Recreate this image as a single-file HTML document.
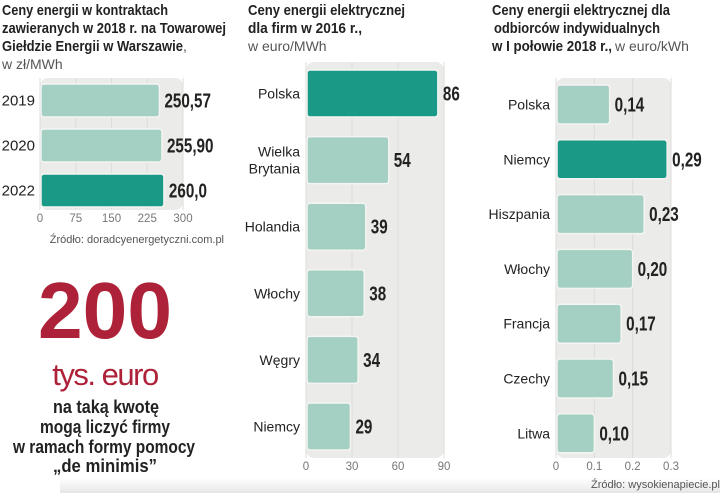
<!DOCTYPE html>
<html><head><meta charset="utf-8"><style>
html,body{margin:0;padding:0;background:#fff;}
svg{display:block;}
text{font-family:"Liberation Sans",sans-serif;}
.t{font-weight:bold;font-size:15px;fill:#222;}
.u{font-size:14px;fill:#555;}
.c{font-size:14px;fill:#222;}
.v{font-weight:bold;font-size:20px;fill:#222;}
.k{font-size:11.5px;fill:#777;}
.s{font-size:11px;fill:#555;}
</style></head><body>
<svg id="svg" width="720" height="493" viewBox="0 0 720 493">
<defs><linearGradient id="g" x1="0" y1="0" x2="0" y2="1"><stop offset="0" stop-color="#fff"/><stop offset="1" stop-color="#e6e6e6"/></linearGradient></defs>
<rect x="60" y="478" width="660" height="15" fill="url(#g)"/>
<g>
<text class="t" x="2" y="15" textLength="166" lengthAdjust="spacingAndGlyphs">Ceny energii w kontraktach</text>
<text class="t" x="2" y="33" textLength="224" lengthAdjust="spacingAndGlyphs">zawieranych w 2018 r. na Towarowej</text>
<text class="t" x="2" y="51" textLength="181" lengthAdjust="spacingAndGlyphs">Giełdzie Energii w Warszawie</text>
<text class="u" x="183" y="51">,</text>
<text class="u" x="2" y="69">w zł/MWh</text>
</g>
<g>
<text class="t" x="248" y="15" textLength="157" lengthAdjust="spacingAndGlyphs">Ceny energii elektrycznej</text>
<text class="t" x="248" y="33" textLength="114" lengthAdjust="spacingAndGlyphs">dla firm w 2016 r.,</text>
<text class="u" x="248" y="51">w euro/MWh</text>
</g>
<g>
<text class="t" x="492" y="15" textLength="178" lengthAdjust="spacingAndGlyphs">Ceny energii elektrycznej dla</text>
<text class="t" x="494" y="33" textLength="166" lengthAdjust="spacingAndGlyphs">odbiorców indywidualnych</text>
<text class="t" x="492" y="51" textLength="120" lengthAdjust="spacingAndGlyphs">w I połowie 2018 r.,</text>
<text class="u" x="615" y="51">w euro/kWh</text>
</g>
<g id="c1"></g>
<g id="c2"></g>
<g id="c3"></g>
<text class="s" x="224" y="243" text-anchor="end">Źródło: doradcyenergetyczni.com.pl</text>
<text class="s" x="720" y="488" text-anchor="end">Źródło: wysokienapiecie.pl</text>
<g>
<text x="38" y="338" textLength="134" lengthAdjust="spacingAndGlyphs" style="font-size:80px;font-weight:bold;fill:#ae2239">200</text>
<text x="105" y="385" text-anchor="middle" style="font-size:31px;fill:#ae2239;letter-spacing:-1.5px">tys. euro</text>
<g style="font-weight:bold;font-size:18px;fill:#222">
<text x="53" y="413" textLength="106" lengthAdjust="spacingAndGlyphs">na taką kwotę</text>
<text x="40" y="433" textLength="130" lengthAdjust="spacingAndGlyphs">mogą liczyć firmy</text>
<text x="13" y="453" textLength="182" lengthAdjust="spacingAndGlyphs">w ramach formy pomocy</text>
<text x="53" y="472" textLength="104" lengthAdjust="spacingAndGlyphs">„de minimis”</text>
</g></g>
</svg>
<script>
const c1Cats=["2019","2020","2022"];
const c1Vals=[250.57,255.90,260.0];
const c1Labels=["250,57","255,90","260,0"];
const c1Ticks=[0,75,150,225,300];
const c2Cats=[["Polska"],["Wielka","Brytania"],["Holandia"],["Włochy"],["Węgry"],["Niemcy"]];
const c2Vals=[86,54,39,38,34,29];
const c2Labels=["86","54","39","38","34","29"];
const c2Ticks=[0,30,60,90];
const c3Cats=[["Polska"],["Niemcy"],["Hiszpania"],["Włochy"],["Francja"],["Czechy"],["Litwa"]];
const c3Vals=[0.14,0.29,0.23,0.20,0.17,0.15,0.10];
const c3Labels=["0,14","0,29","0,23","0,20","0,17","0,15","0,10"];
const c3Ticks=["0","0.1","0.2","0.3"];
const NS="http://www.w3.org/2000/svg";
function mk(p,t,a,txt){const e=document.createElementNS(NS,t);for(const k in a)e.setAttribute(k,a[k]);if(txt!=null)e.textContent=txt;p.appendChild(e);return e;}
function chart(gid,cfg){
  const g=document.getElementById(gid);
  const sx=v=>cfg.x0+v/cfg.max*cfg.w;
  const bg=mk(g,'rect',{x:cfg.x0,y:cfg.top,width:cfg.w,height:cfg.bot-cfg.top,rx:8,fill:'#ebebe9'});
  
  
  cfg.ticks.forEach(t=>{const x=sx(parseFloat(t));
    const l=mk(g,'line',{x1:x,x2:x,y1:cfg.top,y2:cfg.bot,stroke:'#dcdcda','stroke-width':1});
    
    
    const tx=mk(g,'text',{x:x,y:cfg.bot+12,'text-anchor':'middle',class:'k'},String(t));
    
    
  });
  cfg.vals.forEach((v,i)=>{
    const y=cfg.first+i*cfg.step, h=cfg.bh;
    const r=mk(g,'rect',{x:cfg.x0+1,y:y,width:sx(v)-cfg.x0-1,height:h,rx:3,fill:i===cfg.hi?'#1a9a86':'#a4cfc3',stroke:'#f4f4f2','stroke-width':1.5});
    
    
    const val=mk(g,'text',{x:sx(v)+5,y:y+h/2+7,class:'v'},cfg.labels[i]);
    
    
    const L=val.getComputedTextLength();
    if(L>0){val.setAttribute('textLength',L*0.76);val.setAttribute('lengthAdjust','spacingAndGlyphs');}
    const cat=[].concat(cfg.cats[i]);
    cat.forEach((c,j)=>{
      const ty=y+h/2+5+(j-(cat.length-1)/2)*17;
      const ct=mk(g,'text',{x:cfg.x0-cfg.lg,y:ty,'text-anchor':'end',class:'c',style:'font-size:'+cfg.fs+'px'},c);
      
      
    });
  });
}
chart('c1',{x0:40,w:143,max:300,top:78,bot:210,cats:c1Cats,vals:c1Vals,labels:c1Labels,ticks:c1Ticks,first:84,step:45,bh:33,hi:2,lg:5,fs:15});
chart('c2',{x0:306,w:138,max:90,top:62,bot:458,cats:c2Cats,vals:c2Vals,labels:c2Labels,ticks:c2Ticks,first:70,step:66.6,bh:47,hi:0,lg:6,fs:14});
chart('c3',{x0:556,w:115,max:0.3,top:78,bot:458,cats:c3Cats,vals:c3Vals,labels:c3Labels,ticks:c3Ticks,first:85,step:54.8,bh:39,hi:1,lg:6,fs:14});
</script>
</body></html>
